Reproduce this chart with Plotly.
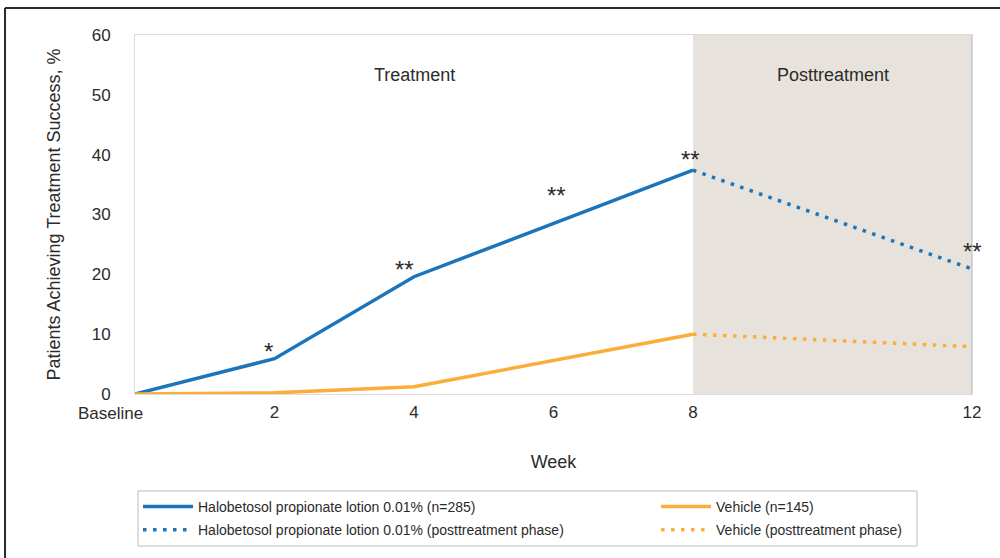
import plotly.graph_objects as go

# Study visits (weeks) and the share of patients achieving treatment success (%)
weeks_treatment = [0, 2, 4, 6, 8]
weeks_post = [8, 12]
halobetosol_treatment = [0, 5.9, 19.6, 28.5, 37.4]
halobetosol_post = [37.4, 20.9]
vehicle_treatment = [0, 0.2, 1.2, 5.6, 10.0]
vehicle_post = [10.0, 7.9]

# Significance markers per visit for the active arm
sig_weeks = [2, 4, 6, 8, 12]
sig_values = [5.9, 19.6, 28.5, 37.4, 20.9]
sig_labels = ["*", "**", "**", "**", "**"]
sig_xshift = [-6, -10, 3, -3, 0]
sig_yshift = [7, 7, 28, 11, 17]

x_tickvals = [0, 2, 4, 6, 8, 12]
x_ticktext = ["Baseline", "2", "4", "6", "8", "12"]
y_tickvals = [0, 10, 20, 30, 40, 50, 60]

series_names = [
    "Halobetosol propionate lotion 0.01% (n=285)",
    "Vehicle (n=145)",
    "Halobetosol propionate lotion 0.01% (posttreatment phase)",
    "Vehicle (posttreatment phase)",
]

BLUE = "#1b75bc"
ORANGE = "#fbad3a"
TEXT = "#2b2b2b"
FONT = "Liberation Sans"
DOT = "3.5px,6.5px"

fig = go.Figure()
# Left legend column: active arm; right legend column: vehicle
fig.add_trace(go.Scatter(x=weeks_treatment, y=halobetosol_treatment, mode="lines",
                         name=series_names[0], legend="legend", legendgroup="a",
                         line=dict(color=BLUE, width=3.5), cliponaxis=False))
fig.add_trace(go.Scatter(x=weeks_post, y=halobetosol_post, mode="lines",
                         name=series_names[2], legend="legend", legendgroup="b",
                         line=dict(color=BLUE, width=3.5, dash=DOT), cliponaxis=False))
fig.add_trace(go.Scatter(x=weeks_treatment, y=vehicle_treatment, mode="lines",
                         name=series_names[1], legend="legend2", legendgroup="c",
                         line=dict(color=ORANGE, width=3.5), cliponaxis=False))
fig.add_trace(go.Scatter(x=weeks_post, y=vehicle_post, mode="lines",
                         name=series_names[3], legend="legend2", legendgroup="d",
                         line=dict(color=ORANGE, width=3.5, dash=DOT), cliponaxis=False))

# Shaded posttreatment phase
fig.add_shape(type="rect", xref="x", yref="y", x0=8, x1=12, y0=0, y1=60,
              fillcolor="#e7e3dc", line=dict(width=0), layer="below")
fig.add_shape(type="line", xref="x", yref="y", x0=12, x1=12, y0=0, y1=60,
              line=dict(color="#cbcbcb", width=2), layer="below")

# Outer frame around the whole figure
fig.add_shape(type="line", xref="paper", yref="paper", x0=-0.1553, x1=1.04, y0=1.0752, y1=1.0752,
              line=dict(color="#2a2a2a", width=2))
fig.add_shape(type="line", xref="paper", yref="paper", x0=-0.1553, x1=-0.1553, y0=1.0752, y1=-0.5,
              line=dict(color="#2a2a2a", width=2))

# Box around both legend columns
fig.add_shape(type="rect", xref="paper", yref="paper", x0=0.0036, x1=0.9343, y0=-0.4234, y1=-0.2702,
              line=dict(color="#bdbdbd", width=1), fillcolor="rgba(0,0,0,0)")

annotations = [
    dict(x=4, y=53.3, text="Treatment", showarrow=False, font=dict(size=18, color=TEXT)),
    dict(x=10, y=53.3, text="Posttreatment", showarrow=False, font=dict(size=18, color=TEXT)),
    dict(x=x_tickvals[0], y=0, text=x_ticktext[0], showarrow=False, yanchor="top",
         xshift=-25, yshift=-8, font=dict(size=17, color=TEXT)),
]
for wk, val, lab, dx, dy in zip(sig_weeks, sig_values, sig_labels, sig_xshift, sig_yshift):
    annotations.append(dict(x=wk, y=val, text=lab, showarrow=False, xshift=dx, yshift=dy,
                            font=dict(size=24, color=TEXT)))

legend_common = dict(orientation="v", yanchor="top", xanchor="left", y=-0.2702,
                     borderwidth=0, bgcolor="rgba(0,0,0,0)", itemwidth=50,
                     tracegroupgap=2, traceorder="grouped",
                     font=dict(size=14, color=TEXT, family=FONT))

fig.update_layout(
    width=1000, height=558,
    margin=dict(l=135, r=28, t=35, b=164, autoexpand=False),
    paper_bgcolor="white", plot_bgcolor="white",
    font=dict(family=FONT, color=TEXT),
    showlegend=True,
    legend=dict(x=0.0036, **legend_common),
    legend2=dict(x=0.6225, **legend_common),
    annotations=annotations,
    xaxis=dict(range=[0, 12], tickvals=x_tickvals, ticktext=[""] + x_ticktext[1:],
               showgrid=False, zeroline=False, showline=True, linecolor="#dcdcdc",
               linewidth=1, mirror=True, ticks="", ticklabelstandoff=3,
               tickfont=dict(size=17, color=TEXT),
               title=dict(text="Week", font=dict(size=18, color=TEXT), standoff=33)),
    yaxis=dict(range=[0, 60], tickvals=y_tickvals, showgrid=False, zeroline=False,
               showline=True, linecolor="#dcdcdc", linewidth=1, mirror=True,
               ticks="", ticklabelstandoff=20, tickfont=dict(size=17, color=TEXT),
               title=dict(text="Patients Achieving Treatment Success, %",
                          font=dict(size=18, color=TEXT), standoff=26)),
)

fig.write_html("out.html")
